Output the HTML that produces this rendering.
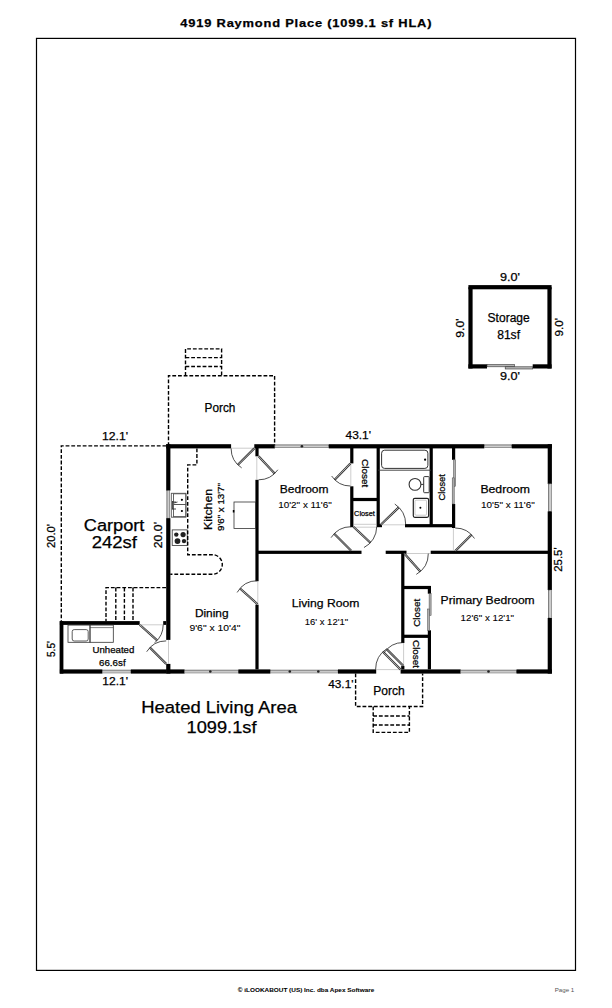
<!DOCTYPE html>
<html><head><meta charset="utf-8"><style>
html,body{margin:0;padding:0;background:#fff;}
svg{display:block;font-family:"Liberation Sans",sans-serif;}
text{stroke:#000;stroke-width:0.25px;}
</style></head><body>
<svg width="612" height="1008" viewBox="0 0 612 1008">
<rect width="612" height="1008" fill="#fff"/>
<rect x="36.5" y="38.4" width="539" height="932" fill="none" stroke="#000" stroke-width="1.2"/>
<text x="180.30" y="26.80" font-size="11.2" textLength="252.00" lengthAdjust="spacingAndGlyphs" fill="#000" font-weight="bold" letter-spacing="0.7">4919 Raymond Place (1099.1 sf HLA)</text>
<rect x="468.40" y="285.10" width="83.20" height="4.20" fill="#000"/>
<rect x="468.40" y="287.20" width="4.20" height="81.30" fill="#000"/>
<rect x="547.40" y="287.20" width="4.20" height="81.30" fill="#000"/>
<rect x="468.40" y="364.30" width="18.60" height="4.20" fill="#000"/>
<rect x="532.70" y="364.30" width="18.90" height="4.20" fill="#000"/>
<rect x="487" y="364.6" width="27.4" height="2.2" fill="#b5b5b5" stroke="#333" stroke-width="0.6"/>
<rect x="505.2" y="366.8" width="27.5" height="2.2" fill="#b5b5b5" stroke="#333" stroke-width="0.6"/>
<text x="500.00" y="280.60" font-size="11.2" textLength="20.00" lengthAdjust="spacingAndGlyphs" fill="#000" font-weight="normal">9.0'</text>
<text x="500.00" y="380.00" font-size="11.2" textLength="20.00" lengthAdjust="spacingAndGlyphs" fill="#000" font-weight="normal">9.0'</text>
<g transform="translate(459.60,328.10) rotate(-90)"><text x="-9.70" y="4.03" font-size="11.2" textLength="19.40" lengthAdjust="spacingAndGlyphs">9.0'</text></g>
<g transform="translate(558.80,327.25) rotate(-90)"><text x="-9.25" y="4.03" font-size="11.2" textLength="18.50" lengthAdjust="spacingAndGlyphs">9.0'</text></g>
<text x="487.60" y="322.20" font-size="12" textLength="42.10" lengthAdjust="spacingAndGlyphs" fill="#000" font-weight="normal">Storage</text>
<text x="497.20" y="339.00" font-size="12" textLength="22.80" lengthAdjust="spacingAndGlyphs" fill="#000" font-weight="normal">81sf</text>
<path d="M168.5,446 V375.7 H274.6 V446" fill="none" stroke="#000" stroke-width="1.4" stroke-dasharray="3.8 1.9"/>
<path d="M185.5,375.7 V348.9 H221.6 V375.7 M185.5,357.6 H221.6 M185.5,366.5 H221.6" fill="none" stroke="#000" stroke-width="1.4" stroke-dasharray="3.8 1.9"/>
<text x="204.60" y="411.80" font-size="12" textLength="30.80" lengthAdjust="spacingAndGlyphs" fill="#000" font-weight="normal">Porch</text>
<path d="M166.3,445.9 H61.3 V621.5" fill="none" stroke="#000" stroke-width="1.4" stroke-dasharray="3.8 1.9"/>
<path d="M166,587.6 H106 V621.5 M115.8,587.6 V621.5 M124.4,587.6 V621.5 M133,587.6 V621.5" fill="none" stroke="#000" stroke-width="1.4" stroke-dasharray="3.8 1.9"/>
<text x="102.00" y="439.50" font-size="11" textLength="26.00" lengthAdjust="spacingAndGlyphs" fill="#000" font-weight="normal">12.1'</text>
<text x="83.80" y="531.40" font-size="16" textLength="60.60" lengthAdjust="spacingAndGlyphs" fill="#000" font-weight="normal">Carport</text>
<text x="91.80" y="548.00" font-size="16" textLength="45.20" lengthAdjust="spacingAndGlyphs" fill="#000" font-weight="normal">242sf</text>
<g transform="translate(51.00,536.00) rotate(-90)"><text x="-12.00" y="3.96" font-size="11" textLength="24.00" lengthAdjust="spacingAndGlyphs">20.0'</text></g>
<g transform="translate(157.70,535.15) rotate(-90)"><text x="-13.15" y="3.96" font-size="11" textLength="26.30" lengthAdjust="spacingAndGlyphs">20.0'</text></g>
<rect x="166.20" y="444.20" width="64.90" height="4.20" fill="#000"/>
<rect x="254.30" y="444.20" width="20.60" height="4.20" fill="#000"/>
<rect x="274.90" y="444.90" width="53.90" height="2.80" fill="#c4c4c4" stroke="#444" stroke-width="0.6"/>
<line x1="274.90" y1="446.90" x2="328.80" y2="446.90" stroke="#ddd" stroke-width="0.7"/>
<rect x="328.80" y="444.20" width="155.50" height="4.20" fill="#000"/>
<rect x="484.30" y="444.90" width="27.50" height="2.80" fill="#c4c4c4" stroke="#444" stroke-width="0.6"/>
<line x1="484.30" y1="446.90" x2="511.80" y2="446.90" stroke="#ddd" stroke-width="0.7"/>
<rect x="511.80" y="444.20" width="40.10" height="4.20" fill="#000"/>
<rect x="166.20" y="444.20" width="4.20" height="46.40" fill="#000"/>
<rect x="166.90" y="490.60" width="2.80" height="27.60" fill="#c4c4c4" stroke="#444" stroke-width="0.6"/>
<line x1="168.90" y1="490.60" x2="168.90" y2="518.20" stroke="#ddd" stroke-width="0.7"/>
<rect x="166.20" y="518.20" width="4.20" height="121.70" fill="#000"/>
<rect x="166.20" y="663.90" width="4.20" height="9.70" fill="#000"/>
<rect x="547.70" y="444.20" width="4.20" height="39.70" fill="#000"/>
<rect x="548.40" y="483.90" width="2.80" height="27.50" fill="#c4c4c4" stroke="#444" stroke-width="0.6"/>
<line x1="550.40" y1="483.90" x2="550.40" y2="511.40" stroke="#ddd" stroke-width="0.7"/>
<rect x="547.70" y="511.40" width="4.20" height="78.60" fill="#000"/>
<rect x="548.40" y="590.00" width="2.80" height="28.00" fill="#c4c4c4" stroke="#444" stroke-width="0.6"/>
<line x1="550.40" y1="590.00" x2="550.40" y2="618.00" stroke="#ddd" stroke-width="0.7"/>
<rect x="547.70" y="618.00" width="4.20" height="55.60" fill="#000"/>
<rect x="166.20" y="669.40" width="18.30" height="4.20" fill="#000"/>
<rect x="184.50" y="670.10" width="53.90" height="2.80" fill="#c4c4c4" stroke="#444" stroke-width="0.6"/>
<line x1="184.50" y1="672.10" x2="238.40" y2="672.10" stroke="#ddd" stroke-width="0.7"/>
<rect x="238.40" y="669.40" width="31.90" height="4.20" fill="#000"/>
<rect x="270.30" y="670.10" width="67.70" height="2.80" fill="#c4c4c4" stroke="#444" stroke-width="0.6"/>
<line x1="270.30" y1="672.10" x2="338.00" y2="672.10" stroke="#ddd" stroke-width="0.7"/>
<rect x="338.00" y="669.40" width="38.20" height="4.20" fill="#000"/>
<rect x="400.60" y="669.40" width="60.00" height="4.20" fill="#000"/>
<rect x="460.60" y="670.10" width="55.90" height="2.80" fill="#c4c4c4" stroke="#444" stroke-width="0.6"/>
<line x1="460.60" y1="672.10" x2="516.50" y2="672.10" stroke="#ddd" stroke-width="0.7"/>
<rect x="516.50" y="669.40" width="35.40" height="4.20" fill="#000"/>
<rect x="59.90" y="621.10" width="79.80" height="3.80" fill="#000"/>
<rect x="163.2" y="621.1" width="3" height="3.8" fill="#000"/>
<rect x="59.60" y="621.10" width="3.80" height="52.50" fill="#000"/>
<rect x="59.90" y="669.40" width="42.40" height="4.20" fill="#000"/>
<rect x="102.30" y="670.10" width="28.60" height="2.80" fill="#c4c4c4" stroke="#444" stroke-width="0.6"/>
<line x1="102.30" y1="672.10" x2="130.90" y2="672.10" stroke="#ddd" stroke-width="0.7"/>
<rect x="130.90" y="669.40" width="35.30" height="4.20" fill="#000"/>
<rect x="68" y="625.1" width="22" height="17.2" fill="none" stroke="#333" stroke-width="0.8"/>
<rect x="72.2" y="629.6" width="16" height="11.4" rx="2" fill="none" stroke="#333" stroke-width="0.8"/>
<rect x="90" y="625.1" width="23.3" height="17.2" fill="none" stroke="#333" stroke-width="0.8"/>
<line x1="90" y1="627.6" x2="113.3" y2="627.6" stroke="#333" stroke-width="0.6"/>
<line x1="139.70" y1="624.70" x2="157.16" y2="640.42" stroke="#333" stroke-width="2.2"/>
<line x1="139.70" y1="624.70" x2="157.16" y2="640.42" stroke="#bbb" stroke-width="0.9"/>
<path d="M163.20,624.70 A23.50,23.50 0 0 1 154.81,642.70" fill="none" stroke="#222" stroke-width="0.8"/>
<line x1="166.20" y1="663.90" x2="149.94" y2="647.64" stroke="#333" stroke-width="2.2"/>
<line x1="166.20" y1="663.90" x2="149.94" y2="647.64" stroke="#bbb" stroke-width="0.9"/>
<path d="M166.20,640.90 A23.00,23.00 0 0 0 146.69,651.71" fill="none" stroke="#222" stroke-width="0.8"/>
<text x="92.50" y="653.30" font-size="9.6" textLength="41.80" lengthAdjust="spacingAndGlyphs" fill="#000" font-weight="normal">Unheated</text>
<text x="99.00" y="666.00" font-size="9.6" textLength="26.60" lengthAdjust="spacingAndGlyphs" fill="#000" font-weight="normal">66.6sf</text>
<text x="102.30" y="684.70" font-size="11" textLength="25.70" lengthAdjust="spacingAndGlyphs" fill="#000" font-weight="normal">12.1'</text>
<g transform="translate(51.00,649.00) rotate(-90)"><text x="-8.00" y="3.96" font-size="11" textLength="16.00" lengthAdjust="spacingAndGlyphs">5.5'</text></g>
<rect x="255.40" y="448.00" width="3.20" height="8.30" fill="#000"/>
<rect x="255.40" y="479.80" width="3.20" height="101.40" fill="#000"/>
<rect x="255.40" y="604.70" width="3.20" height="64.70" fill="#000"/>
<rect x="257.00" y="550.70" width="104.50" height="3.20" fill="#000"/>
<rect x="385.70" y="550.70" width="20.80" height="3.20" fill="#000"/>
<rect x="430.70" y="550.70" width="117.30" height="3.20" fill="#000"/>
<rect x="350.20" y="448.00" width="3.20" height="15.40" fill="#000"/>
<rect x="350.20" y="486.30" width="3.20" height="40.90" fill="#000"/>
<rect x="351.80" y="497.90" width="26.50" height="3.20" fill="#000"/>
<rect x="376.60" y="448.00" width="3.20" height="79.00" fill="#000"/>
<rect x="405.00" y="524.10" width="50.00" height="3.20" fill="#000"/>
<rect x="377" y="524.2" width="5" height="3" fill="#000"/>
<rect x="429.60" y="448.00" width="3.20" height="79.00" fill="#000"/>
<rect x="452.00" y="448.00" width="3.20" height="11.80" fill="#000"/>
<rect x="452.00" y="504.00" width="3.20" height="24.00" fill="#000"/>
<rect x="453.5" y="459.8" width="2" height="26.5" fill="#b0b0b0" stroke="#444" stroke-width="0.5"/>
<rect x="452.2" y="477.9" width="2" height="26.1" fill="#b0b0b0" stroke="#444" stroke-width="0.5"/>
<rect x="401.20" y="551.00" width="3.20" height="92.00" fill="#000"/>
<rect x="401.20" y="666.00" width="3.20" height="3.40" fill="#000"/>
<rect x="402.80" y="585.90" width="27.90" height="3.20" fill="#000"/>
<rect x="427.80" y="586.00" width="3.20" height="7.70" fill="#000"/>
<rect x="427.80" y="630.30" width="3.20" height="39.10" fill="#000"/>
<rect x="429.1" y="593.7" width="2" height="21.8" fill="#b0b0b0" stroke="#444" stroke-width="0.5"/>
<rect x="427.6" y="609" width="2" height="21.3" fill="#b0b0b0" stroke="#444" stroke-width="0.5"/>
<rect x="402.80" y="634.70" width="27.90" height="3.20" fill="#000"/>
<circle cx="301.9" cy="446.3" r="1.3" fill="#222"/>
<circle cx="210.3" cy="671.5" r="1.3" fill="#222"/>
<circle cx="289.8" cy="671.5" r="1.3" fill="#222"/>
<circle cx="318.3" cy="671.5" r="1.3" fill="#222"/>
<circle cx="488.5" cy="671.5" r="1.3" fill="#222"/>
<line x1="231.1" y1="448.2" x2="254.3" y2="448.2" stroke="#aaa" stroke-width="0.6"/>
<line x1="256.8" y1="456.3" x2="256.8" y2="479.8" stroke="#aaa" stroke-width="0.6"/>
<line x1="350.8" y1="463.4" x2="350.8" y2="486.3" stroke="#aaa" stroke-width="0.6"/>
<line x1="381" y1="524.8" x2="405" y2="524.8" stroke="#aaa" stroke-width="0.6"/>
<line x1="406.5" y1="553.5" x2="430.7" y2="553.5" stroke="#aaa" stroke-width="0.6"/>
<line x1="453.4" y1="528" x2="453.4" y2="551" stroke="#aaa" stroke-width="0.6"/>
<line x1="257.8" y1="581.2" x2="257.8" y2="604.7" stroke="#aaa" stroke-width="0.6"/>
<line x1="376.2" y1="669.6" x2="400.6" y2="669.6" stroke="#aaa" stroke-width="0.6"/>
<line x1="403.6" y1="643" x2="403.6" y2="666" stroke="#aaa" stroke-width="0.6"/>
<line x1="139.7" y1="624.8" x2="163.2" y2="624.8" stroke="#aaa" stroke-width="0.6"/>
<line x1="168.5" y1="639.9" x2="168.5" y2="663.9" stroke="#aaa" stroke-width="0.6"/>
<path d="M353.4,524.3 H377 M353.4,527.2 H377" stroke="#999" stroke-width="0.5"/>
<line x1="254.30" y1="448.40" x2="237.90" y2="464.80" stroke="#333" stroke-width="2.2"/>
<line x1="254.30" y1="448.40" x2="237.90" y2="464.80" stroke="#bbb" stroke-width="0.9"/>
<path d="M231.10,448.40 A23.20,23.20 0 0 0 241.66,467.86" fill="none" stroke="#222" stroke-width="0.8"/>
<line x1="258.60" y1="456.30" x2="274.63" y2="473.49" stroke="#333" stroke-width="2.2"/>
<line x1="258.60" y1="456.30" x2="274.63" y2="473.49" stroke="#bbb" stroke-width="0.9"/>
<path d="M258.60,479.80 A23.50,23.50 0 0 0 277.85,469.78" fill="none" stroke="#222" stroke-width="0.8"/>
<line x1="350.40" y1="463.40" x2="334.70" y2="479.66" stroke="#333" stroke-width="2.2"/>
<line x1="350.40" y1="463.40" x2="334.70" y2="479.66" stroke="#bbb" stroke-width="0.9"/>
<path d="M350.40,486.00 A22.60,22.60 0 0 1 331.66,476.04" fill="none" stroke="#222" stroke-width="0.8"/>
<line x1="381.00" y1="524.50" x2="398.77" y2="507.34" stroke="#333" stroke-width="2.2"/>
<line x1="381.00" y1="524.50" x2="398.77" y2="507.34" stroke="#bbb" stroke-width="0.9"/>
<path d="M405.70,524.50 A24.70,24.70 0 0 0 394.81,504.02" fill="none" stroke="#222" stroke-width="0.8"/>
<line x1="353.40" y1="526.80" x2="370.44" y2="542.69" stroke="#333" stroke-width="2.2"/>
<line x1="353.40" y1="526.80" x2="370.44" y2="542.69" stroke="#bbb" stroke-width="0.9"/>
<path d="M376.70,526.80 A23.30,23.30 0 0 1 363.98,547.56" fill="none" stroke="#222" stroke-width="0.8"/>
<line x1="351.20" y1="550.70" x2="334.23" y2="533.73" stroke="#333" stroke-width="2.2"/>
<line x1="351.20" y1="550.70" x2="334.23" y2="533.73" stroke="#bbb" stroke-width="0.9"/>
<path d="M351.20,526.70 A24.00,24.00 0 0 0 331.07,537.63" fill="none" stroke="#222" stroke-width="0.8"/>
<line x1="404.30" y1="553.60" x2="420.36" y2="571.44" stroke="#333" stroke-width="2.2"/>
<line x1="404.30" y1="553.60" x2="420.36" y2="571.44" stroke="#bbb" stroke-width="0.9"/>
<path d="M428.30,553.60 A24.00,24.00 0 0 1 416.30,574.38" fill="none" stroke="#222" stroke-width="0.8"/>
<line x1="455.20" y1="551.00" x2="471.46" y2="534.74" stroke="#333" stroke-width="2.2"/>
<line x1="455.20" y1="551.00" x2="471.46" y2="534.74" stroke="#bbb" stroke-width="0.9"/>
<path d="M455.20,528.00 A23.00,23.00 0 0 1 474.49,538.47" fill="none" stroke="#222" stroke-width="0.8"/>
<line x1="257.50" y1="604.20" x2="240.04" y2="588.48" stroke="#333" stroke-width="2.2"/>
<line x1="257.50" y1="604.20" x2="240.04" y2="588.48" stroke="#bbb" stroke-width="0.9"/>
<path d="M257.50,580.70 A23.50,23.50 0 0 0 237.15,592.45" fill="none" stroke="#222" stroke-width="0.8"/>
<line x1="400.60" y1="669.50" x2="382.92" y2="651.82" stroke="#333" stroke-width="2.2"/>
<line x1="400.60" y1="669.50" x2="382.92" y2="651.82" stroke="#bbb" stroke-width="0.9"/>
<path d="M375.60,669.50 A25.00,25.00 0 0 1 386.98,648.53" fill="none" stroke="#222" stroke-width="0.8"/>
<line x1="403.50" y1="666.00" x2="386.88" y2="649.38" stroke="#333" stroke-width="2.2"/>
<line x1="403.50" y1="666.00" x2="386.88" y2="649.38" stroke="#bbb" stroke-width="0.9"/>
<path d="M403.50,642.50 A23.50,23.50 0 0 0 383.79,653.20" fill="none" stroke="#222" stroke-width="0.8"/>
<line x1="378" y1="470.2" x2="431" y2="470.2" stroke="#333" stroke-width="0.9"/>
<rect x="381.6" y="450.2" width="46.3" height="18.2" rx="3" fill="none" stroke="#333" stroke-width="1"/>
<circle cx="425.1" cy="459.7" r="1.1" fill="#000"/>
<rect x="423.7" y="476.6" width="5.5" height="16.1" rx="0.8" fill="none" stroke="#333" stroke-width="1"/>
<circle cx="415" cy="484.4" r="5.9" fill="none" stroke="#333" stroke-width="1.1"/>
<line x1="421" y1="484.4" x2="423.7" y2="484.4" stroke="#333" stroke-width="1"/>
<rect x="413.3" y="498.3" width="15.3" height="19" rx="1.5" fill="none" stroke="#222" stroke-width="1.2"/>
<rect x="415" y="500.2" width="11.5" height="15" rx="1" fill="none" stroke="#999" stroke-width="0.5"/>
<circle cx="420.4" cy="507.8" r="1" fill="#000"/>
<rect x="171.3" y="493.3" width="14.6" height="23.9" fill="none" stroke="#555" stroke-width="0.9"/>
<rect x="173.5" y="493.8" width="12.4" height="10.7" fill="none" stroke="#555" stroke-width="0.9"/>
<rect x="173.5" y="504.5" width="12.4" height="12.1" fill="none" stroke="#555" stroke-width="0.9"/>
<circle cx="181.9" cy="499.8" r="1.1" fill="#000"/><circle cx="181.9" cy="511" r="1.1" fill="#000"/>
<path d="M172.5,501 V509.5 M172.5,502 H176 M172.5,509 H176 M174,503 L177.5,502" stroke="#222" stroke-width="0.8" fill="none"/>
<rect x="172.2" y="529.9" width="15" height="15.6" fill="none" stroke="#333" stroke-width="0.8"/>
<circle cx="176.3" cy="534.6" r="2.2" fill="#222"/>
<circle cx="183.1" cy="534.6" r="2.6" fill="#222"/>
<circle cx="177.5" cy="541.1" r="2.9" fill="#222"/>
<circle cx="184" cy="541.1" r="2.2" fill="#222"/>
<rect x="234" y="502" width="21.7" height="26.6" fill="none" stroke="#333" stroke-width="0.8"/>
<rect x="232.8" y="510" width="1.6" height="2.5" fill="#000"/>
<path d="M196.9,448.4 V464.9 H187.7 V554.7 H212.5 A9.8,9.8 0 0 1 212.5,574.3 H170.3" fill="none" stroke="#000" stroke-width="1.4" stroke-dasharray="3.8 1.9"/>
<text x="279.80" y="492.80" font-size="11.6" textLength="48.70" lengthAdjust="spacingAndGlyphs" fill="#000" font-weight="normal">Bedroom</text>
<text x="278.20" y="507.50" font-size="9.6" textLength="53.60" lengthAdjust="spacingAndGlyphs" fill="#000" font-weight="normal" style="stroke-width:0.1px">10'2" x 11'6"</text>
<text x="480.40" y="492.70" font-size="11.6" textLength="49.60" lengthAdjust="spacingAndGlyphs" fill="#000" font-weight="normal">Bedroom</text>
<text x="481.00" y="508.40" font-size="9.6" textLength="53.70" lengthAdjust="spacingAndGlyphs" fill="#000" font-weight="normal" style="stroke-width:0.1px">10'5" x 11'6"</text>
<g transform="translate(208.20,509.40) rotate(-90)"><text x="-20.60" y="4.14" font-size="11.5" textLength="41.20" lengthAdjust="spacingAndGlyphs">Kitchen</text></g>
<g transform="translate(220.90,507.00) rotate(-90)"><text x="-24.00" y="3.46" font-size="9.6" textLength="48.00" lengthAdjust="spacingAndGlyphs">9'6" x 13'7"</text></g>
<text x="194.90" y="617.00" font-size="11.6" textLength="33.70" lengthAdjust="spacingAndGlyphs" fill="#000" font-weight="normal">Dining</text>
<text x="189.40" y="630.60" font-size="9.6" textLength="51.00" lengthAdjust="spacingAndGlyphs" fill="#000" font-weight="normal" style="stroke-width:0.1px">9'6" x 10'4"</text>
<text x="291.80" y="607.40" font-size="11.6" textLength="67.60" lengthAdjust="spacingAndGlyphs" fill="#000" font-weight="normal">Living Room</text>
<text x="304.70" y="625.00" font-size="9.6" textLength="43.50" lengthAdjust="spacingAndGlyphs" fill="#000" font-weight="normal" style="stroke-width:0.1px">16' x 12'1"</text>
<text x="440.60" y="604.10" font-size="11.6" textLength="94.10" lengthAdjust="spacingAndGlyphs" fill="#000" font-weight="normal">Primary Bedroom</text>
<text x="460.60" y="620.90" font-size="9.6" textLength="53.50" lengthAdjust="spacingAndGlyphs" fill="#000" font-weight="normal" style="stroke-width:0.1px">12'6" x 12'1"</text>
<g transform="translate(365.50,473.15) rotate(90)"><text x="-14.15" y="3.42" font-size="9.5" textLength="28.30" lengthAdjust="spacingAndGlyphs">Closet</text></g>
<text x="354.10" y="515.70" font-size="7.5" textLength="20.80" lengthAdjust="spacingAndGlyphs" fill="#000" font-weight="normal">Closet</text>
<g transform="translate(442.00,487.35) rotate(-90)"><text x="-13.25" y="3.42" font-size="9.5" textLength="26.50" lengthAdjust="spacingAndGlyphs">Closet</text></g>
<g transform="translate(416.70,612.80) rotate(-90)"><text x="-14.00" y="3.42" font-size="9.5" textLength="28.00" lengthAdjust="spacingAndGlyphs">Closet</text></g>
<g transform="translate(416.70,654.00) rotate(90)"><text x="-14.00" y="3.42" font-size="9.5" textLength="28.00" lengthAdjust="spacingAndGlyphs">Closet</text></g>
<text x="345.50" y="439.40" font-size="11" textLength="25.50" lengthAdjust="spacingAndGlyphs" fill="#000" font-weight="normal">43.1'</text>
<text x="328.20" y="688.20" font-size="11" textLength="25.30" lengthAdjust="spacingAndGlyphs" fill="#000" font-weight="normal">43.1'</text>
<g transform="translate(558.40,559.60) rotate(-90)"><text x="-12.20" y="3.96" font-size="11" textLength="24.40" lengthAdjust="spacingAndGlyphs">25.5'</text></g>
<path d="M355.6,673.5 V706.5 H422.6 V673.5" fill="none" stroke="#000" stroke-width="1.4" stroke-dasharray="3.8 1.9"/>
<path d="M373.2,706.5 V732.4 H409.4 V706.5 M373.2,716 H409.4 M373.2,725 H409.4" fill="none" stroke="#000" stroke-width="1.4" stroke-dasharray="3.8 1.9"/>
<text x="373.20" y="694.70" font-size="12" textLength="31.50" lengthAdjust="spacingAndGlyphs" fill="#000" font-weight="normal">Porch</text>
<text x="141.20" y="712.90" font-size="16.3" textLength="155.80" lengthAdjust="spacingAndGlyphs" fill="#000" font-weight="normal">Heated Living Area</text>
<text x="186.50" y="732.60" font-size="16.3" textLength="70.00" lengthAdjust="spacingAndGlyphs" fill="#000" font-weight="normal">1099.1sf</text>
<text x="237.80" y="991.60" font-size="5.6" textLength="136.50" lengthAdjust="spacingAndGlyphs" fill="#000" font-weight="bold" style="stroke-width:0.05px">© iLOOKABOUT (US) Inc. dba Apex Software</text>
<text x="554.70" y="991.70" font-size="5.8" textLength="19.60" lengthAdjust="spacingAndGlyphs" fill="#555" font-weight="normal" style="stroke-width:0px">Page 1</text>
</svg></body></html>
